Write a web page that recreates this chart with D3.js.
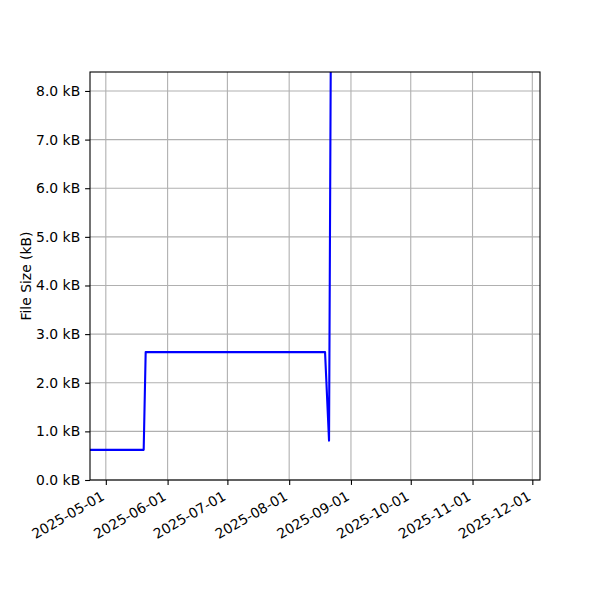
<!DOCTYPE html>
<head>
  <meta charset="utf-8">
  <script src="https://d3js.org/d3.v7.min.js"></script>
  <style>
    body { margin: 0; background: #fff; }
    svg text { font-family: "DejaVu Sans", sans-serif; }
  </style>
</head>
<body>
  <svg width="600" height="600"></svg>
  <script>
    // file size history (kB), last point runs off the top of the plot
    var dates = ['2025-04-20', '2025-05-20', '2025-05-21', '2025-08-19', '2025-08-21', '2025-08-22'];
    var sizes = [0.62, 0.62, 2.63, 2.63, 0.81, 9.8];
    var xTicks = ['2025-05-01', '2025-06-01', '2025-07-01', '2025-08-01', '2025-09-01', '2025-10-01', '2025-11-01', '2025-12-01'];
    var yTicks = [0, 1, 2, 3, 4, 5, 6, 7, 8];
    var xDomain = ['2025-04-23T01:30', '2025-12-04T20:30'];
    var yDomain = [0, 8.39];

    var margin = { top: 72, right: 60, bottom: 120, left: 90 };
    var width = 600, height = 600;
    var font = '"DejaVu Sans", sans-serif';
    var parse = function (s) { return new Date(s + (s.length === 10 ? 'T00:00Z' : 'Z')); };

    var data = dates.map(function (d, i) { return { date: parse(d), size: sizes[i] }; });

    var x = d3.scaleUtc()
      .domain(xDomain.map(parse))
      .range([margin.left, width - margin.right]);
    var y = d3.scaleLinear()
      .domain(yDomain)
      .range([height - margin.bottom, margin.top]);

    var svg = d3.select('svg');

    svg.append('clipPath').attr('id', 'clip')
      .append('rect')
      .attr('x', margin.left).attr('y', margin.top)
      .attr('width', width - margin.left - margin.right)
      .attr('height', height - margin.top - margin.bottom);

    // grid
    svg.append('g').selectAll('line').data(xTicks).enter().append('line')
      .attr('x1', function (d) { return x(parse(d)); })
      .attr('x2', function (d) { return x(parse(d)); })
      .attr('y1', margin.top).attr('y2', height - margin.bottom)
      .attr('stroke', '#b0b0b0').attr('stroke-width', 1.1);
    svg.append('g').selectAll('line').data(yTicks).enter().append('line')
      .attr('y1', function (d) { return y(d); })
      .attr('y2', function (d) { return y(d); })
      .attr('x1', margin.left).attr('x2', width - margin.right)
      .attr('stroke', '#b0b0b0').attr('stroke-width', 1.1);

    var line = d3.line()
      .x(function (d) { return x(d.date); })
      .y(function (d) { return y(d.size); });

    svg.append('path')
      .datum(data)
      .attr('clip-path', 'url(#clip)')
      .attr('d', line)
      .attr('fill', 'none')
      .attr('stroke', 'blue')
      .attr('stroke-width', 2.1)
      .attr('stroke-linejoin', 'round');

    // frame
    svg.append('rect')
      .attr('x', margin.left).attr('y', margin.top)
      .attr('width', width - margin.left - margin.right)
      .attr('height', height - margin.top - margin.bottom)
      .attr('fill', 'none').attr('stroke', '#000').attr('stroke-width', 1.1);

    var xAxis = d3.axisBottom(x)
      .tickValues(xTicks.map(parse))
      .tickSize(4.9).tickPadding(3.5)
      .tickFormat(d3.utcFormat('%Y-%m-%d'));
    var gx = svg.append('g')
      .attr('transform', `translate(0, ${height - margin.bottom})`)
      .call(xAxis)
      .attr('font-family', font)
      .attr('font-size', 13.9);
    gx.select('.domain').remove();
    gx.selectAll('line').attr('stroke-width', 1.1);
    gx.selectAll('text')
      .attr('fill', '#000')
      .attr('text-anchor', 'end')
      .attr('dy', null)
      .attr('y', null)
      .attr('transform', 'translate(-1, 19) rotate(-30)');

    var yAxis = d3.axisLeft(y)
      .tickValues(yTicks)
      .tickSize(4.9).tickPadding(4.9)
      .tickFormat(function (d) { return d3.format('.1f')(d) + ' kB'; });
    var gy = svg.append('g')
      .attr('transform', `translate(${margin.left}, 0)`)
      .call(yAxis)
      .attr('font-family', font)
      .attr('font-size', 13.9);
    gy.select('.domain').remove();
    gy.selectAll('line').attr('stroke-width', 1.1);
    gy.selectAll('text').attr('fill', '#000');

    svg.append('text')
      .attr('transform', `translate(31, ${(margin.top + height - margin.bottom) / 2}) rotate(-90)`)
      .attr('text-anchor', 'middle')
      .attr('font-size', 13.9)
      .text('File Size (kB)');
  </script>
</body>
